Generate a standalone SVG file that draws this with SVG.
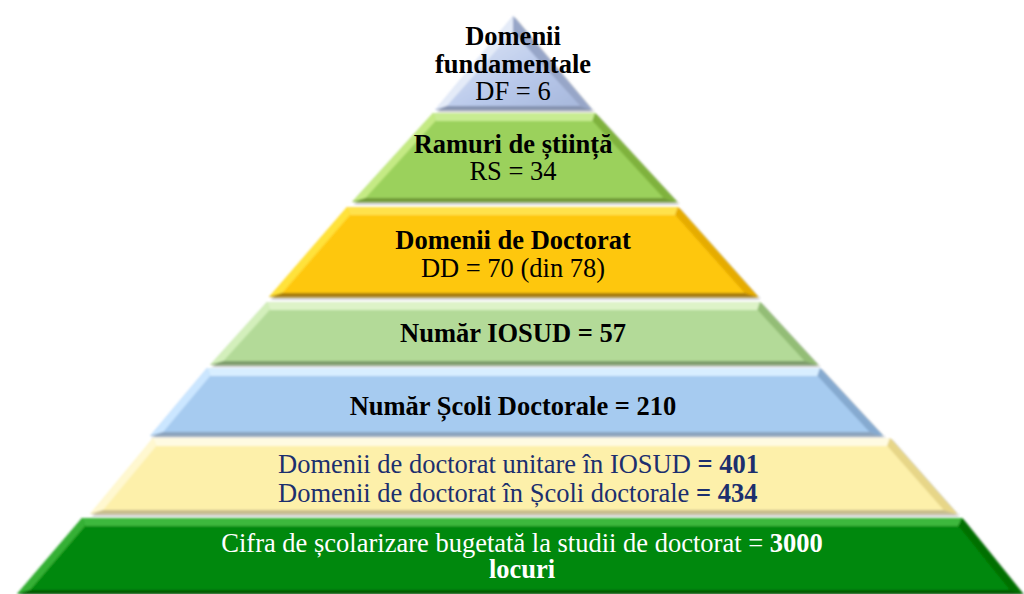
<svg xmlns="http://www.w3.org/2000/svg" width="1024" height="594" viewBox="0 0 1024 594">
<style>
  text { font-family: "Liberation Serif", "Times New Roman", serif; font-size: 26.5px; }
  .c { text-anchor: middle; }
  .b { font-weight: bold; }
  .dk { fill: #000; }
  .nv { fill: #1c2f6e; }
  .wh { fill: #fff; }
</style>
<defs>
  <filter id="sh" x="-5%" y="-10%" width="110%" height="125%">
    <feGaussianBlur in="SourceAlpha" stdDeviation="1.5" result="bl"/>
    <feOffset in="bl" dx="2" dy="2" result="of"/>
    <feComponentTransfer in="of" result="sd"><feFuncA type="linear" slope="0.35"/></feComponentTransfer>
    <feGaussianBlur in="SourceGraphic" stdDeviation="0.9" result="sg"/>
    <feMerge><feMergeNode in="sd"/><feMergeNode in="sg"/></feMerge>
  </filter>
  <linearGradient id="g1" x1="0" y1="0" x2="1" y2="1">
    <stop offset="0" stop-color="#e3eaf8"/>
    <stop offset="0.6" stop-color="#b8c8ea"/>
    <stop offset="1" stop-color="#a7b8dc"/>
  </linearGradient>
</defs>

<g id="layer1">
  <g filter="url(#sh)">
    <polygon points="513,16 592,110 435,110" fill="#b8c8ea"/>
    <polygon points="513,16 513,32 447,106 435,110" fill="#e4ebf8"/>
    <polygon points="513,16 592,110 580,106 513,32" fill="#97a6c8"/>
    <polygon points="435,110 447,106 580,106 592,110" fill="#8593b0"/>
    <polygon points="513,32 580,106 447,106" fill="url(#g1)"/>
  </g>
  <text class="c b dk" x="513" y="45">Domenii</text>
  <text class="c b dk" x="513" y="73">fundamentale</text>
  <text class="c dk" x="513" y="100">DF = 6</text>
</g>

<g id="layer2">
  <g filter="url(#sh)">
    <polygon points="433,113 595,113 677,202 352,202" fill="#9bd15c"/>
    <polygon points="433,113 595,113 592.4,121 435.7,121" fill="#c8ec92"/>
    <polygon points="433,113 435.7,121 365.6,198 352,202" fill="#c4ea84"/>
    <polygon points="595,113 677,202 663.3,198 592.4,121" fill="#7fb23e"/>
    <polygon points="352,202 365.6,198 663.3,198 677,202" fill="#6f9a37"/>
    <polygon points="435.7,121 592.4,121 663.3,198 365.6,198" fill="#9bd15c"/>
  </g>
  <text class="c b dk" x="513" y="153">Ramuri de știință</text>
  <text class="c dk" x="513" y="180">RS = 34</text>
</g>

<g id="layer3">
  <g filter="url(#sh)">
    <polygon points="347,207 678,207 758,297 269,297" fill="#fec70c"/>
    <polygon points="347,207 678,207 675.1,215 350.1,215" fill="#ffe24c"/>
    <polygon points="347,207 350.1,215 282.4,293 269,297" fill="#ffe23a"/>
    <polygon points="678,207 758,297 744.5,293 675.1,215" fill="#e6ac00"/>
    <polygon points="269,297 282.4,293 744.5,293 758,297" fill="#a67c10"/>
    <polygon points="350.1,215 675.1,215 744.5,293 282.4,293" fill="#fec70c"/>
  </g>
  <text class="c b dk" x="513" y="249">Domenii de Doctorat</text>
  <text class="c dk" x="513" y="277">DD = 70 (din 78)</text>
</g>

<g id="layer4">
  <g filter="url(#sh)">
    <polygon points="267,302 760,302 818,365 210,365" fill="#b3da98"/>
    <polygon points="267,302 760,302 757.4,310 269.8,310" fill="#ddf3c8"/>
    <polygon points="267,302 269.8,310 223.6,361 210,365" fill="#d3efbb"/>
    <polygon points="760,302 818,365 804.3,361 757.4,310" fill="#93bd76"/>
    <polygon points="210,365 223.6,361 804.3,361 818,365" fill="#7d9b6a"/>
    <polygon points="269.8,310 757.4,310 804.3,361 223.6,361" fill="#b3da98"/>
  </g>
  <text class="c b dk" x="513" y="342">Număr IOSUD = 57</text>
</g>

<g id="layer5">
  <g filter="url(#sh)">
    <polygon points="207,368 820,368 883,436 150,436" fill="#a6cbf0"/>
    <polygon points="207,368 820,368 817.4,376 210.3,376" fill="#d8eeff"/>
    <polygon points="207,368 210.3,376 163.4,432 150,436" fill="#cbe6ff"/>
    <polygon points="820,368 883,436 869.3,432 817.4,376" fill="#86aad0"/>
    <polygon points="150,436 163.4,432 869.3,432 883,436" fill="#8aa3bd"/>
    <polygon points="210.3,376 817.4,376 869.3,432 163.4,432" fill="#a6cbf0"/>
  </g>
  <text class="c b dk" x="513" y="415">Număr Școli Doctorale = 210</text>
</g>

<g id="layer6">
  <g filter="url(#sh)">
    <polygon points="153,438 890,438 957,514 90,514" fill="#fdf0aa"/>
    <polygon points="153,438 890,438 887.1,446 156.4,446" fill="#fffbe2"/>
    <polygon points="153,438 156.4,446 103.3,510 90,514" fill="#fff8d0"/>
    <polygon points="890,438 957,514 943.5,510 887.1,446" fill="#e7d688"/>
    <polygon points="90,514 103.3,510 943.5,510 957,514" fill="#c7bd8c"/>
    <polygon points="156.4,446 887.1,446 943.5,510 103.3,510" fill="#fdf0aa"/>
  </g>
  <text class="nv" x="278" y="473">Domenii de doctorat unitare în IOSUD <tspan class="b">= 401</tspan></text>
  <text class="nv" x="278" y="502">Domenii de doctorat în Școli doctorale <tspan class="b">= 434</tspan></text>
</g>

<g id="layer7">
  <g filter="url(#sh)">
    <polygon points="82,518 962,518 1023,594 17,594" fill="#068808"/>
    <polygon points="82,518 962,518 958.4,526 85.2,526" fill="#3cb83c"/>
    <polygon points="82,518 85.2,526 30.4,590 17,594" fill="#35b035"/>
    <polygon points="962,518 1023,594 1009.8,590 958.4,526" fill="#057005"/>
    <polygon points="17,594 30.4,590 1009.8,590 1023,594" fill="#045a06"/>
    <polygon points="85.2,526 958.4,526 1009.8,590 30.4,590" fill="#068808"/>
  </g>
  <text class="c wh" x="522" y="552">Cifra de școlarizare bugetată la studii de doctorat = <tspan class="b">3000</tspan></text>
  <text class="c b wh" x="522" y="578">locuri</text>
</g>
</svg>
